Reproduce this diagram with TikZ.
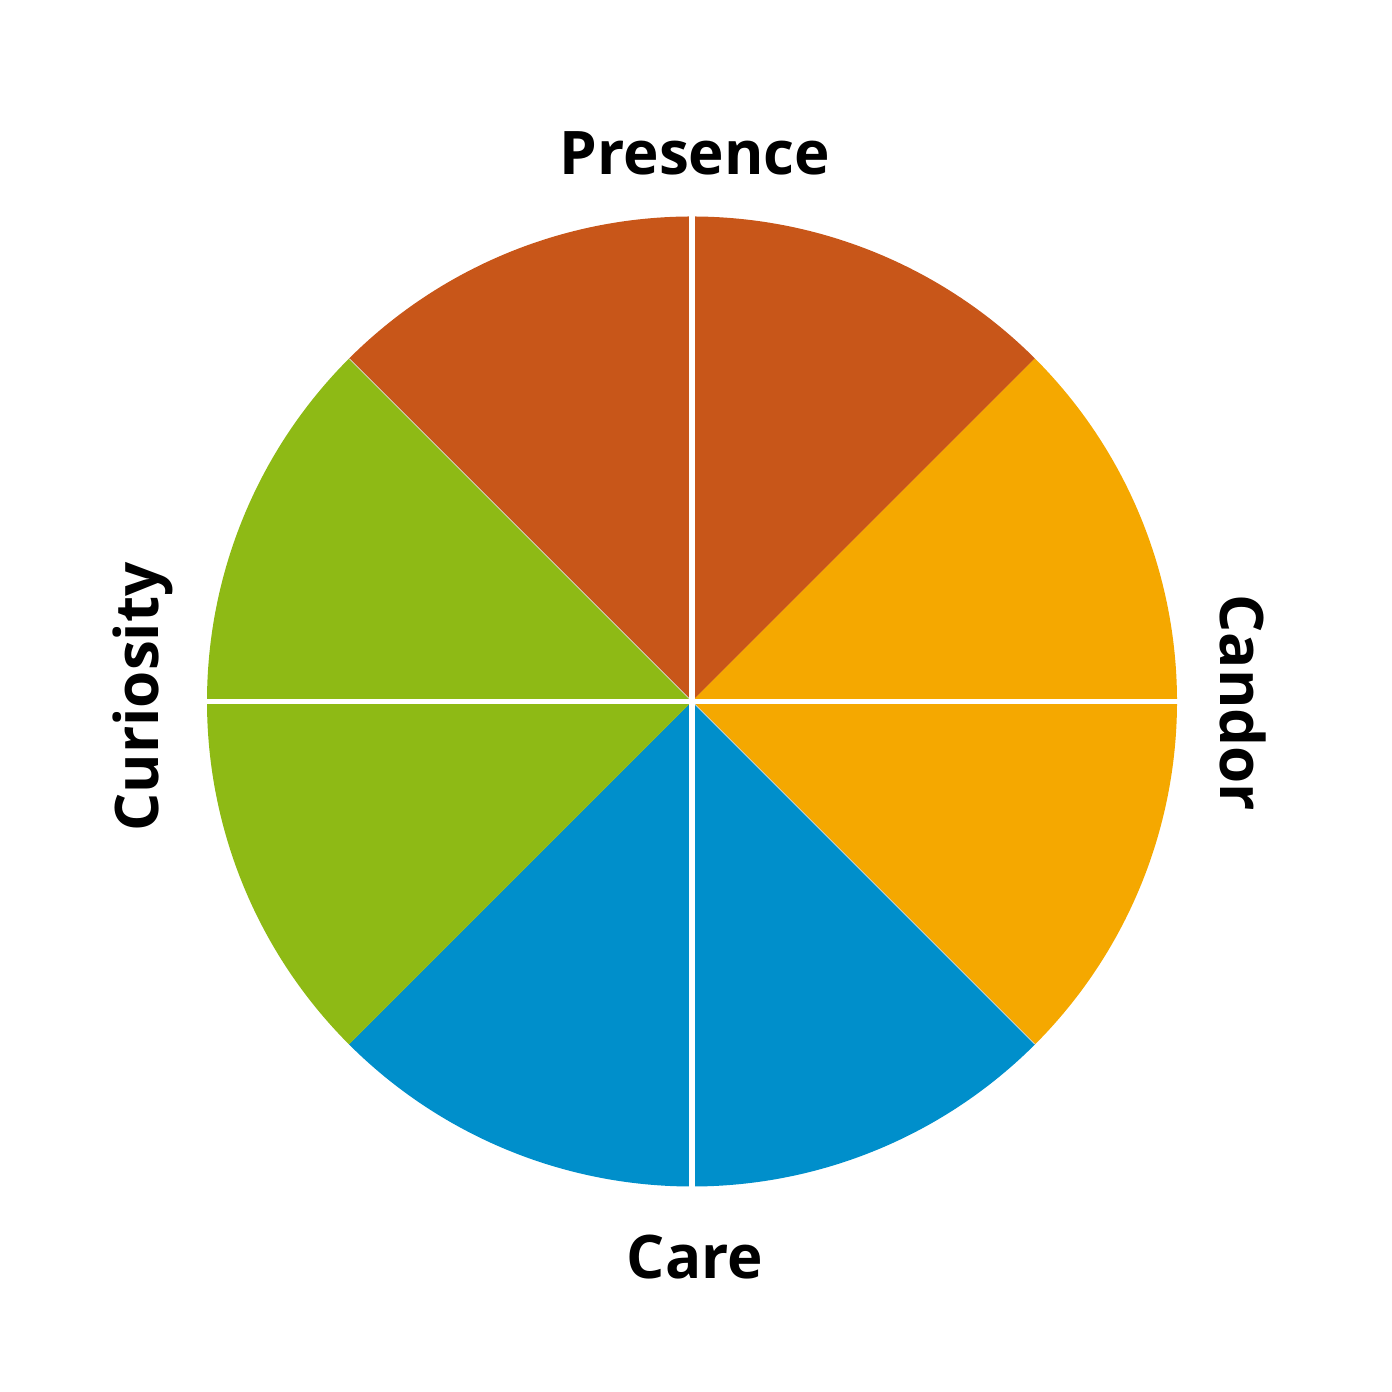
\documentclass[tikz,border=0pt]{standalone}
\usepackage{fontspec}
\setmainfont{Open Sans}
\usetikzlibrary{positioning,calc}
\definecolor{rust}{RGB}{200,86,25}
\definecolor{saffron}{RGB}{245,168,0}
\definecolor{leaf}{RGB}{142,186,21}
\definecolor{sky}{RGB}{0,143,203}
\tikzset{
  wedge/.style={fill=#1},
  split/.style={draw=white,line width=1.6pt},
  lbl/.style={font=\fontsize{17.1}{19}\selectfont\bfseries,text=black,inner sep=0pt},
}
\begin{document}
\begin{tikzpicture}
  \useasboundingbox (0,0) rectangle (13.92,13.92);
  \coordinate (c) at (6.92,6.905);
  % eight wedges, two per colour
  \foreach \a/\col in {135/rust,90/rust,45/saffron,0/saffron,-45/sky,-90/sky,225/leaf,180/leaf}{
    \fill[wedge=\col] (c) -- ++(\a:4.85) arc (\a:\a-45:4.85) -- cycle;
  }
  \foreach \a in {135,315}
    \draw[white!70!gray,line width=0.2pt] (c) -- ++(\a:4.845);
  \coordinate (n) at ($(c)+(90:4.865)$);
  \coordinate (s) at ($(c)+(-90:4.865)$);
  \coordinate (e) at ($(c)+(0:4.865)$);
  \coordinate (w) at ($(c)+(180:4.865)$);
  \draw[split] (n) -- (s);
  \draw[split] (w) -- (e);
  % labels
  \node[lbl] (presence) at (6.95,12.39) {Presence};
  \node[lbl] (care) at (6.95,1.35) {Care};
  \node[lbl,rotate=90] (curiosity) at (1.43,6.95) {Curiosity};
  \node[lbl,rotate=-90] (candor) at (12.43,6.89) {Candor};
\end{tikzpicture}
\end{document}
